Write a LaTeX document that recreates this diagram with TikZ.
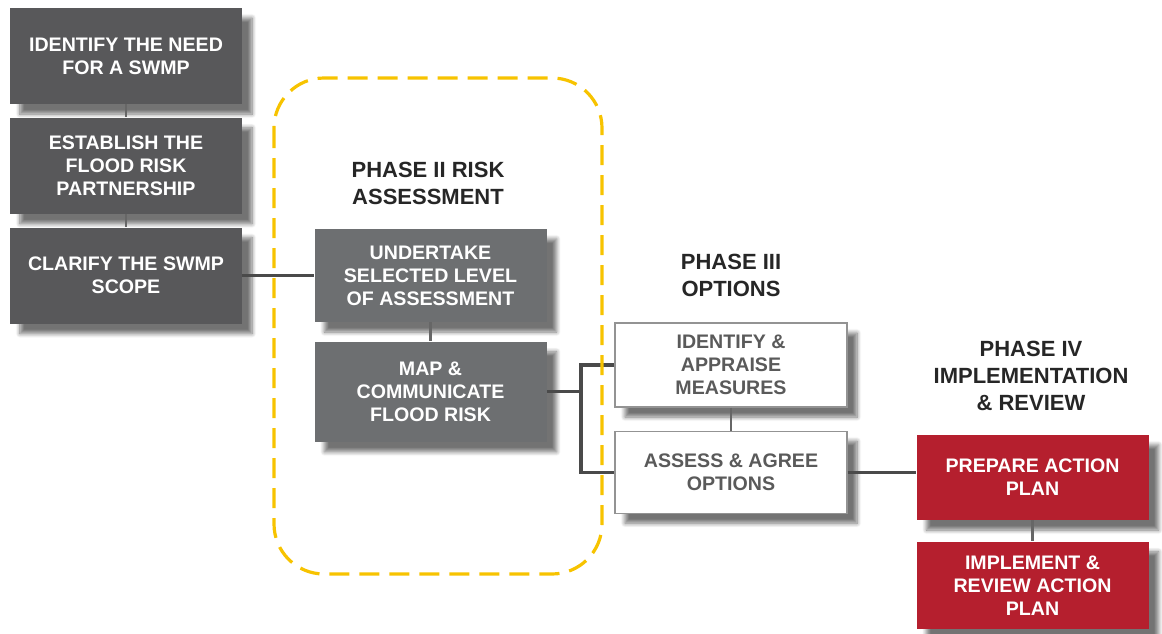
\documentclass[tikz,border=0pt]{standalone}
\usepackage{fontspec}
\setmainfont{Liberation Sans}
\usetikzlibrary{positioning,shadows.blur}

\definecolor{stagedark}{HTML}{58585A}
\definecolor{stagemid}{HTML}{6D6F71}
\definecolor{stagered}{HTML}{B51F2E}
\definecolor{stageline}{HTML}{4A4A4A}
\definecolor{stagetext}{HTML}{5A5A5A}
\definecolor{phaseyellow}{HTML}{F7C300}

\begin{document}
\begin{tikzpicture}[
		x=0.5pt, y=-0.5pt,
		node distance=6.5pt,
		block/.style={minimum width=116pt, minimum height=48pt, inner sep=0pt, align=center,
			font=\fontsize{9.8}{11.5}\selectfont\bfseries, text=white,
			blur shadow={shadow xshift=5pt, shadow yshift=-5pt, shadow blur steps=8, shadow opacity=55}},
		darkblock/.style={block, fill=stagedark},
		midblock/.style={block, fill=stagemid},
		whiteblock/.style={block, fill=white, draw=gray!85, line width=0.6pt, text=stagetext},
		redblock/.style={block, fill=stagered},
		phase/.style={align=center, font=\fontsize{11}{13.5}\selectfont\bfseries, text=black!85},
		link/.style={stageline, line width=1.6pt},
		joint/.style={gray!80!black, line width=1.4pt},
	]
		\useasboundingbox (0,0) rectangle (1162,633);

		\node (identify need) [darkblock] at (126,56) {IDENTIFY THE NEED\\FOR A SWMP};
		\node (establish partnership) [darkblock, below=of identify need] {ESTABLISH THE\\FLOOD RISK\\PARTNERSHIP};
		\node (clarify scope) [darkblock, below=of establish partnership] {CLARIFY THE SWMP\\SCOPE};

		\node (undertake assessment) [midblock, minimum height=46.5pt] at (430.5,275.5) {UNDERTAKE\\SELECTED LEVEL\\OF ASSESSMENT};
		\node (map risk) [midblock, minimum height=50pt, below=9.5pt of undertake assessment] {MAP \&\\COMMUNICATE\\FLOOD RISK};

		\node (appraise measures) [whiteblock, minimum height=42pt] at (731,365) {IDENTIFY \&\\APPRAISE\\MEASURES};
		\node (agree options) [whiteblock, minimum height=41pt, below=11.5pt of appraise measures] {ASSESS \& AGREE\\OPTIONS};

		\node (prepare plan) [redblock, minimum height=42.5pt] at (1032.5,477.5) {PREPARE ACTION\\PLAN};
		\node (review plan) [redblock, minimum height=43.5pt, below=10.5pt of prepare plan] {IMPLEMENT \&\\REVIEW ACTION\\PLAN};

		\node (phase two) [phase] at (428,183) {PHASE II RISK\\ASSESSMENT};
		\node (phase three) [phase] at (731,275) {PHASE III\\OPTIONS};
		\node (phase four) [phase] at (1031,376) {PHASE IV\\IMPLEMENTATION\\\& REVIEW};

		\draw[joint] (identify need) -- (establish partnership);
		\draw[joint] (establish partnership) -- (clarify scope);
		\draw[joint] (undertake assessment) -- (map risk);
		\draw[joint] (appraise measures) -- (agree options);
		\draw[joint] (prepare plan) -- (review plan);

		\coordinate [right=17pt of map risk.east] (options split);
		\draw[link] (clarify scope.east) -- (clarify scope.east -| undertake assessment.west);
		\draw[link] (map risk.east) -- (options split);
		\draw[link] (appraise measures.west) -| (options split) |- (agree options.west);
		\draw[link] (agree options.east) -- (agree options.east -| prepare plan.west);

		% phase II frame
		\draw[phaseyellow, line width=1.6pt, dash pattern=on 10pt off 5pt, rounded corners=25pt]
			(274,78) rectangle (602,574);
	\end{tikzpicture}
\end{document}
